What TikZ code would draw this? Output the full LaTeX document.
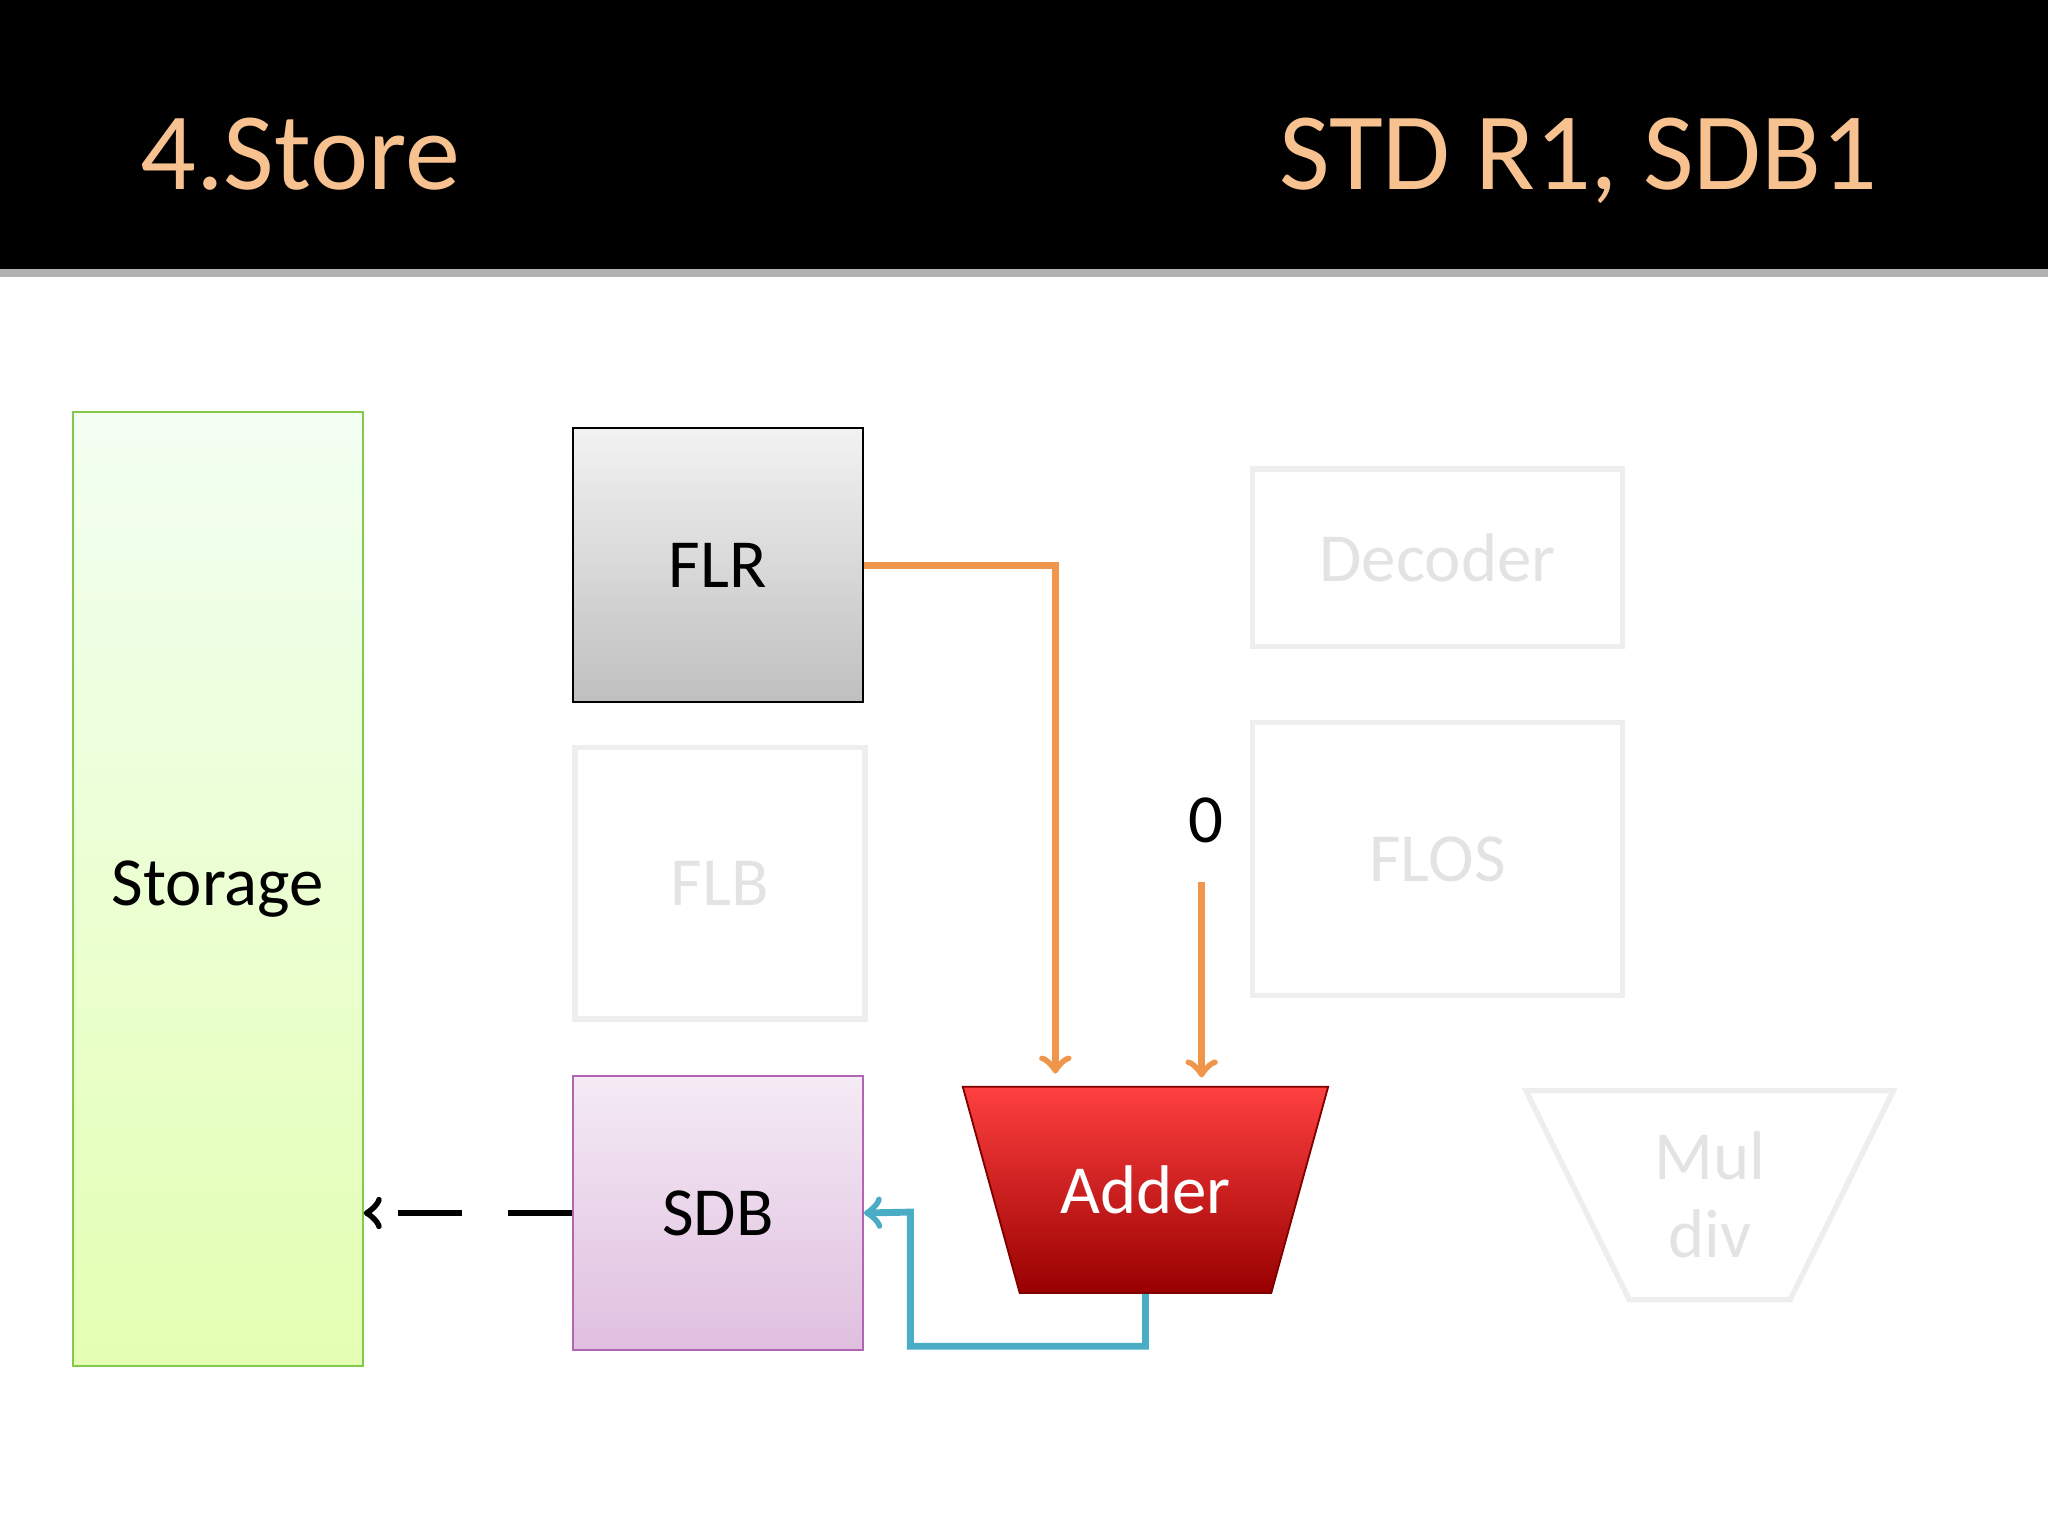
\documentclass[tikz,border=0pt]{standalone}
\usepackage{fontspec}
\setmainfont{Carlito}
\usetikzlibrary{shapes.geometric}
\definecolor{peach}{HTML}{F7C28F}
\definecolor{wire}{HTML}{F0964A}
\definecolor{teal}{HTML}{4BACC6}
\definecolor{faint}{HTML}{EEEEEE}
\definecolor{fainttext}{HTML}{E3E3E3}
\tikzset{
	box/.style={draw,minimum width=22.2mm,minimum height=21mm,font=\fontsize{15}{18}\selectfont},
	ghost/.style={draw=faint,line width=1.2pt,text=fainttext,font=\fontsize{15}{18}\selectfont},
	title/.style={text=peach,font=\fontsize{24}{28}\selectfont,anchor=base west}
}
\begin{document}
\begin{tikzpicture}[x=0.1mm,y=-0.1mm]
	\useasboundingbox (0,0) rectangle (1568,1176);
	\fill[black] (0,0) rectangle (1568,206);
	\fill[gray!60] (0,206) rectangle (1568,212);
	\node[title] (step) at (95,145) {4.Store};
	\node[title,anchor=base east] (instr) at (1450,145) {STD R1, SDB1};
	% units
	\node[draw=green!40!olive!70,top color=green!5!white,bottom color=green!35!yellow!30,minimum width=22.2mm,minimum height=73mm,anchor=north west,font=\fontsize{15}{18}\selectfont] (storage) at (55,315) {Storage};
	\node[box,top color=gray!10,bottom color=gray!50,anchor=north west] (flr) at (438,327) {FLR};
	\node[ghost,minimum width=22.2mm,minimum height=20.8mm,anchor=north west] (flb) at (438,570) {FLB};
	\node[box,draw=violet!60,top color=violet!8,bottom color=violet!25,anchor=north west] (sdb) at (438,823) {SDB};
	\node[ghost,minimum width=28.3mm,minimum height=13.6mm,anchor=north west] (dec) at (957,357) {Decoder};
	\node[ghost,minimum width=28.3mm,minimum height=20.9mm,anchor=north west] (flos) at (957,551) {FLOS};
	\node[trapezium,trapezium stretches=true,shape border rotate=180,minimum width=28mm,minimum height=15.8mm,
		draw=red!50!black,top color=red!75!white,bottom color=red!60!black,text=white,font=\fontsize{15}{18}\selectfont] (adder) at (877,911) {Adder};
	\node[trapezium,trapezium stretches=true,shape border rotate=180,minimum width=28.2mm,minimum height=16mm,
		ghost,align=center,font=\fontsize{15}{17}\selectfont] (mul) at (1309,915) {Mul\\div};
	\node[font=\fontsize{15}{18}\selectfont] (zero) at (923,628) {0};
	% connectors
	\coordinate (a1) at (808,822);
	\coordinate (z1) at (920,675);
	\coordinate (a2) at (920,825);
	\draw[wire,line width=1.5pt,->] (flr.east) -| (a1);
	\draw[wire,line width=1.5pt,->] (z1) -- (a2);
	\draw[teal,line width=1.5pt,->] (adder.south) -- ++(0,40) -| (697,928) -- (sdb.east);
	\draw[line width=1.5pt,dash pattern=on 14pt off 10pt,->] (sdb.west) -- (storage.east |- sdb.west);
\end{tikzpicture}
\end{document}
